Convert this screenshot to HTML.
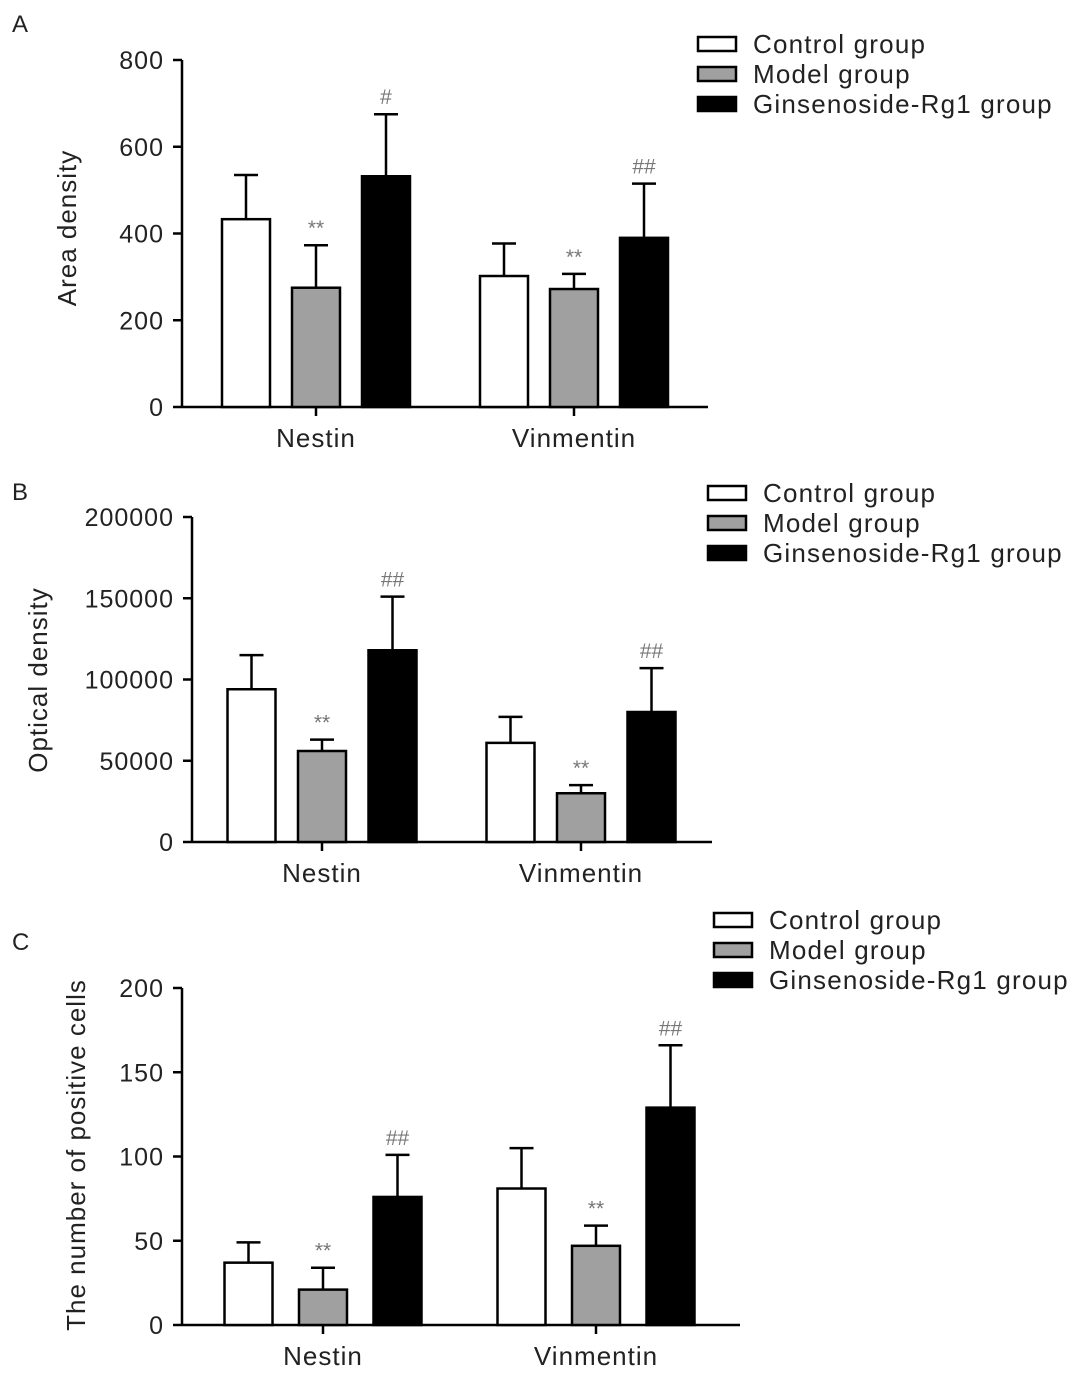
<!DOCTYPE html>
<html><head><meta charset="utf-8"><style>
html,body{margin:0;padding:0;background:#fff;}
svg{display:block;font-family:"Liberation Sans",Arial,sans-serif;}
</style></head><body>
<svg id="chart" width="1086" height="1375" viewBox="0 0 1086 1375"></svg>
<script>
const categories = ["Nestin", "Vinmentin"];
const seriesNames = ["Control group", "Model group", "Ginsenoside-Rg1 group"];
const seriesFill = ["#fff", "#a0a0a0", "#000"];
// Panel A
const aMeans = [[433, 275, 532], [302, 272, 390]];
const aErr = [[535, 373, 675], [377, 307, 515]];
const aAnn = [["", "**", "#"], ["", "**", "##"]];
const aTicks = [0, 200, 400, 600, 800];
// Panel B
const bMeans = [[94000, 56000, 118000], [61000, 30000, 80000]];
const bErr = [[115000, 63000, 151000], [77000, 35000, 107000]];
const bAnn = [["", "**", "##"], ["", "**", "##"]];
const bTicks = [0, 50000, 100000, 150000, 200000];
// Panel C
const cMeans = [[37, 21, 76], [81, 47, 129]];
const cErr = [[49, 34, 101], [105, 59, 166]];
const cAnn = [["", "**", "##"], ["", "**", "##"]];
const cTicks = [0, 50, 100, 150, 200];

const NS = "http://www.w3.org/2000/svg";
const svg = document.getElementById("chart");
function mk(tag, attrs, parent, text) {
  const e = document.createElementNS(NS, tag);
  for (const k in attrs) e.setAttribute(k, attrs[k]);
  if (text !== undefined) e.textContent = text;
  (parent || svg).appendChild(e);
  return e;
}

function panel(p, means, errs, anns, ticks) {
  const g = mk("g", {});
  
  
  const yMax = ticks[ticks.length - 1];
  const y = v => p.y0 - (v / yMax) * (p.y0 - p.yTop);
  const lbl = mk("text", {x: 12, y: p.labelY, "font-size": 24, fill: "#222"}, g, p.id);
  
  
  const ya = mk("line", {x1: p.ax, y1: p.yTop, x2: p.ax, y2: p.y0, stroke: "#000", "stroke-width": 2.5}, g);
  
  
  const xa = mk("line", {x1: p.ax, y1: p.y0, x2: p.axEnd, y2: p.y0, stroke: "#000", "stroke-width": 2.5}, g);
  
  
  ticks.forEach(t => {
    const ty = y(t);
    const tl = mk("line", {x1: p.ax - 9, y1: ty, x2: p.ax, y2: ty, stroke: "#000", "stroke-width": 2.5}, g);
    
    
    const tt = mk("text", {x: p.ax - 18, y: ty + 9, "font-size": 25, "letter-spacing": 1, "text-anchor": "end", fill: "#222"}, g, String(t));
    
    
  });
  const yt = mk("text", {x: p.ylX, y: p.ylY, "font-size": 26, "letter-spacing": 1, "text-anchor": "middle", fill: "#222", transform: `rotate(-90 ${p.ylX} ${p.ylY})`}, g, p.yLabel);
  
  
  categories.forEach((c, ci) => {
    const center = p.catCenters[ci];
    const xt = mk("line", {x1: center, y1: p.y0, x2: center, y2: p.y0 + 9, stroke: "#000", "stroke-width": 2.5}, g);
    
    
    const cl = mk("text", {x: center, y: p.y0 + 40, "font-size": 26, "letter-spacing": 1, "text-anchor": "middle", fill: "#222"}, g, c);
    
    
    means[ci].forEach((m, si) => {
      const bx = center + (si - 1) * p.step - p.bw / 2;
      const cx = bx + p.bw / 2;
      const eb = mk("line", {x1: cx, y1: y(errs[ci][si]), x2: cx, y2: y(m), stroke: "#000", "stroke-width": 2.5}, g);
      
      
      const cap = mk("line", {x1: cx - 12, y1: y(errs[ci][si]), x2: cx + 12, y2: y(errs[ci][si]), stroke: "#000", "stroke-width": 2.5}, g);
      
      
      const r = mk("rect", {x: bx, y: y(m), width: p.bw, height: p.y0 - y(m), fill: seriesFill[si], stroke: "#000", "stroke-width": 2.5}, g);
      
      
      if (anns[ci][si]) {
        const a = mk("text", {x: cx, y: y(errs[ci][si]) - 10, "font-size": 21, "text-anchor": "middle", fill: "#777"}, g, anns[ci][si]);
        
        
      }
    });
  });
  seriesNames.forEach((s, si) => {
    const ly = p.legY + si * 30;
    const lr = mk("rect", {x: p.legX, y: ly - 7, width: 38, height: 14, fill: seriesFill[si], stroke: "#000", "stroke-width": 2.5}, g);
    
    
    const lt = mk("text", {x: p.legX + 55, y: ly + 9, "font-size": 26, "letter-spacing": 1.2, fill: "#222"}, g, s);
    
    
  });
}

panel({id: "A", labelY: 32, ax: 182, axEnd: 708, y0: 407, yTop: 60, ylX: 76, ylY: 228, yLabel: "Area density",
  catCenters: [316, 574], step: 70, bw: 48, legX: 698, legY: 44}, aMeans, aErr, aAnn, aTicks);
panel({id: "B", labelY: 500, ax: 192, axEnd: 712, y0: 842, yTop: 517, ylX: 47, ylY: 680, yLabel: "Optical density",
  catCenters: [322, 581], step: 70.5, bw: 48, legX: 708, legY: 493}, bMeans, bErr, bAnn, bTicks);
panel({id: "C", labelY: 950, ax: 182, axEnd: 740, y0: 1325, yTop: 988, ylX: 85, ylY: 1155, yLabel: "The number of positive cells",
  catCenters: [323, 596], step: 74.5, bw: 48, legX: 714, legY: 920}, cMeans, cErr, cAnn, cTicks);
</script>
</body></html>
